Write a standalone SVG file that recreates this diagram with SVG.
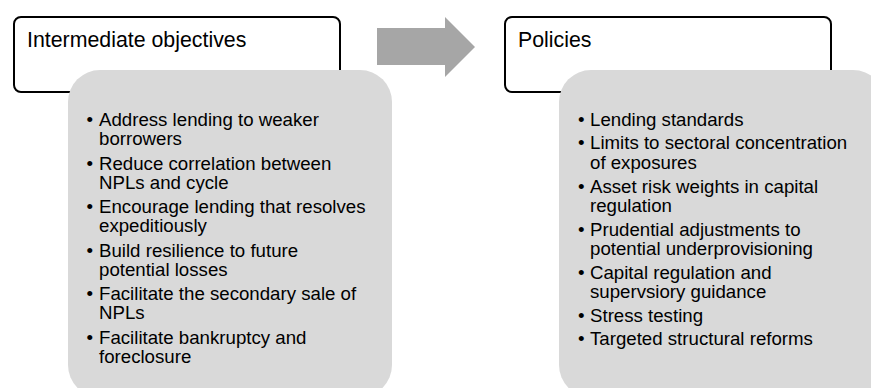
<svg xmlns="http://www.w3.org/2000/svg" width="871" height="388" viewBox="0 0 871 388">
  <style>
    .hdr { fill: #FFFFFF; stroke: #000000; stroke-width: 2; }
    .body { fill: #D9D9D9; stroke: none; }
    .title { font-family: "Liberation Sans", Arial, sans-serif; font-size: 21.33px; fill: #000000; }
    .item { font-family: "Liberation Sans", Arial, sans-serif; font-size: 18.67px; fill: #000000; }
    .arrow { fill: #A6A6A6; stroke: none; }
  </style>
  <rect width="871" height="388" fill="#FFFFFF"/>

  <g id="objectives-header">
    <rect class="hdr" x="14" y="17" width="326" height="75" rx="7" ry="7"/>
    <text class="title" x="27" y="47">Intermediate objectives</text>
  </g>

  <g id="objectives-list">
    <rect class="body" x="68" y="70" width="324" height="327" rx="32" ry="32"/>
    <g class="item">
      <text x="86.5" y="126">•</text><text x="99" y="126">Address lending to weaker</text>
      <text x="99" y="145">borrowers</text>
      <text x="86.5" y="169.6">•</text><text x="99" y="169.6">Reduce correlation between</text>
      <text x="99" y="188.6">NPLs and cycle</text>
      <text x="86.5" y="213.2">•</text><text x="99" y="213.2">Encourage lending that resolves</text>
      <text x="99" y="232.2">expeditiously</text>
      <text x="86.5" y="256.8">•</text><text x="99" y="256.8">Build resilience to future</text>
      <text x="99" y="275.8">potential losses</text>
      <text x="86.5" y="300.4">•</text><text x="99" y="300.4">Facilitate the secondary sale of</text>
      <text x="99" y="319.4">NPLs</text>
      <text x="86.5" y="344">•</text><text x="99" y="344">Facilitate bankruptcy and</text>
      <text x="99" y="363">foreclosure</text>
    </g>
  </g>

  <g id="policies-header">
    <rect class="hdr" x="505" y="17" width="326" height="75" rx="7" ry="7"/>
    <text class="title" x="518" y="47">Policies</text>
  </g>

  <g id="policies-list">
    <rect class="body" x="559" y="70" width="326" height="327" rx="32" ry="32"/>
    <g class="item">
      <text x="578" y="125.5">•</text><text x="590" y="125.5">Lending standards</text>
      <text x="578" y="149">•</text><text x="590" y="149">Limits to sectoral concentration</text>
      <text x="590" y="168.5">of exposures</text>
      <text x="578" y="192.5">•</text><text x="590" y="192.5">Asset risk weights in capital</text>
      <text x="590" y="211.5">regulation</text>
      <text x="578" y="235.5">•</text><text x="590" y="235.5">Prudential adjustments to</text>
      <text x="590" y="255">potential underprovisioning</text>
      <text x="578" y="279">•</text><text x="590" y="279">Capital regulation and</text>
      <text x="590" y="298">supervsiory guidance</text>
      <text x="578" y="322">•</text><text x="590" y="322">Stress testing</text>
      <text x="578" y="345">•</text><text x="590" y="345">Targeted structural reforms</text>
    </g>
  </g>

  <g id="connectors">
    <polygon class="arrow" points="377,28 445,28 445,17 475,47 445,77 445,65 377,65"/>
  </g>
</svg>
